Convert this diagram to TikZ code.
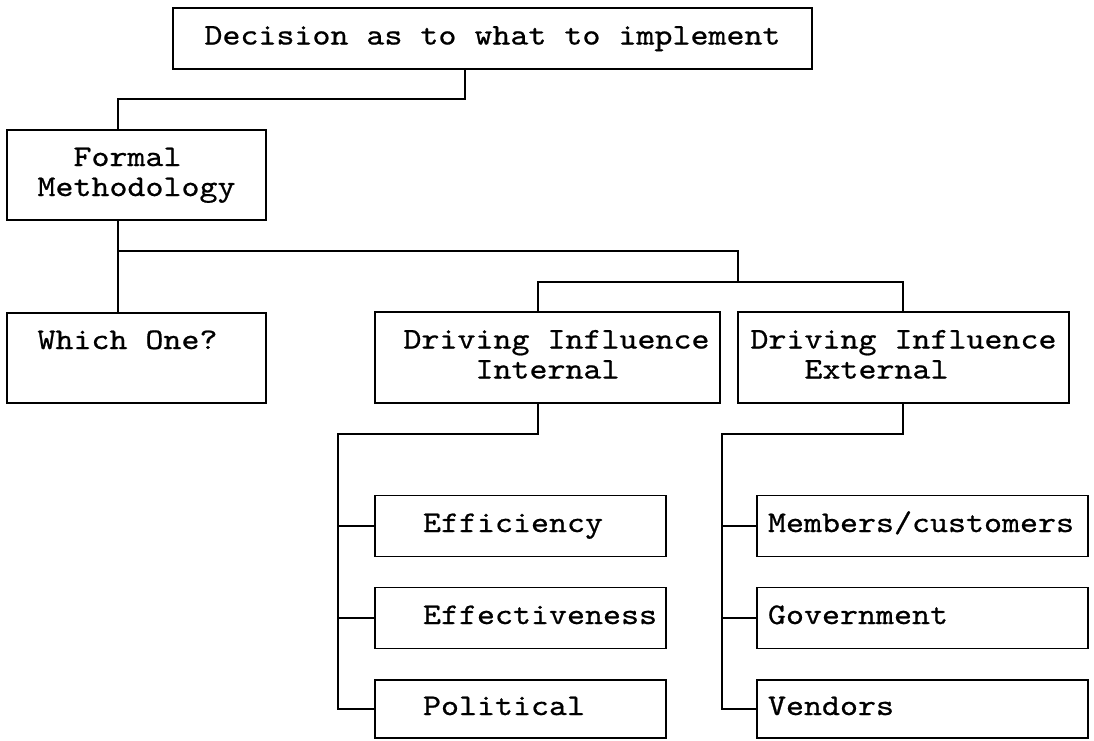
\documentclass[tikz,border=0pt]{standalone}
\usepackage{fontspec}
% Typewriter face, widened so that one character is 18pt wide at 30pt
\newfontfamily\typefont[FakeStretch=1.143,FakeBold=0.7]{lmmono10-regular.otf}
\begin{document}
\begin{tikzpicture}[x=1pt,y=-1pt,
  box/.style={draw, line width=1.7pt, inner sep=0pt,
    font=\typefont\fontsize{30}{30}\selectfont},
  oneline/.style={text height=21pt, text depth=9pt},
  leftleaf/.style={box, oneline, align=left, text width=291pt,
    minimum width=291pt, minimum height=61pt},
  rightleaf/.style={box, oneline, align=left, text width=331pt,
    minimum width=331pt, minimum height=61pt},
  link/.style={line width=1.7pt}]
\useasboundingbox (0,0) rectangle (1094,740);

% top of the tree
\node[box, oneline, minimum width=639pt, minimum height=61pt] (top) at (492.5,38.5)
  {Decision as to what to implement};
\node[box, align=left, minimum width=259pt, minimum height=90pt] (formal) at (136.5,175)
  {\strut\hphantom{xx}Formal\\\strut Methodology};
\node[box, align=center, minimum width=259pt, minimum height=90pt] (which) at (136.5,358)
  {\strut Which One?\hphantom{x}\\\strut};

% driving influences
\node[box, align=left, minimum width=345pt, minimum height=91pt] (internal) at (547.5,357.5)
  {\strut\hphantom{x}Driving Influence\\\strut\hphantom{xxxxx}Internal};
\node[box, align=left, minimum width=331pt, minimum height=91pt] (external) at (903.5,357.5)
  {\strut Driving Influence\\\strut\hphantom{xxx}External};

% internal factors
\node[leftleaf] (efficiency) at (520.5,526) {\hspace*{48pt}Efficiency};
\node[leftleaf] (effectiveness) at (520.5,618) {\hspace*{48pt}Effectiveness};
\node[leftleaf, minimum height=58pt] (political) at (520.5,709) {\hspace*{48pt}Political};

% external factors
\node[rightleaf] (members) at (922.5,526) {\hspace*{11pt}Members/customers};
\node[rightleaf] (government) at (922.5,618) {\hspace*{11pt}Government};
\node[rightleaf, minimum height=58pt] (vendors) at (922.5,709) {\hspace*{11pt}Vendors};

% connectors
\draw[link] (top.south -| 465,0) -- (465,99) -| (formal.north -| 118,0);
\draw[link] (formal.south -| 118,0) -- (which.north -| 118,0);
\draw[link] (118,251) -| (738,282);
\draw[link] (internal.north -| 538,0) -- (538,282) -| (external.north -| 903,0);

\draw[link] (internal.south -| 538,0) |- (338,434) |- (political.west);
\draw[link] (efficiency.west) -- (efficiency.west -| 338,0);
\draw[link] (effectiveness.west) -- (effectiveness.west -| 338,0);

\draw[link] (external.south -| 903,0) |- (722,434) |- (vendors.west);
\draw[link] (members.west) -- (members.west -| 722,0);
\draw[link] (government.west) -- (government.west -| 722,0);
\end{tikzpicture}
\end{document}
